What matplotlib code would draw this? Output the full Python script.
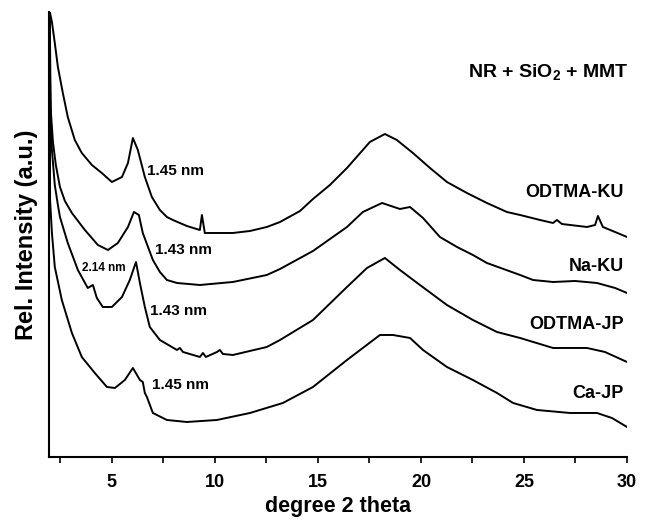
import matplotlib
matplotlib.use("Agg")
import matplotlib.pyplot as plt
from matplotlib.ticker import MultipleLocator

plt.rcParams['font.family'] = ['Liberation Sans', 'DejaVu Sans']
plt.rcParams['font.weight'] = 'bold'
plt.rcParams['mathtext.fontset'] = 'custom'
plt.rcParams['mathtext.bf'] = 'Liberation Sans:bold'
plt.rcParams['mathtext.rm'] = 'Liberation Sans:bold'
plt.rcParams['mathtext.default'] = 'bf'

# diffraction patterns (y is an offset intensity in arb. units)
odtma_ku_x = [1.99, 2.09, 2.23, 2.38, 2.62, 2.86, 3.20, 3.54, 4.03, 4.51, 5.00, 5.49, 5.78, 6.02,
              6.26, 6.60, 6.94, 7.33, 7.67, 7.96, 8.64, 9.27, 9.37, 9.51, 10.87, 11.70, 12.52,
              13.16, 14.13, 14.76, 15.58, 16.41, 17.52, 18.25, 18.83, 19.61, 20.44, 21.26,
              22.23, 23.20, 24.17, 24.81, 25.78, 26.41, 26.60, 26.84, 28.06, 28.45, 28.59,
              28.83, 29.42, 30.0]
odtma_ku_y = [445, 435, 414, 390, 364, 340, 317, 304, 292, 284, 275, 280, 294, 319,
              307, 280, 260, 247, 240, 237, 231, 227, 242, 224, 224, 226, 230,
              235, 246, 258, 272, 289, 315, 323, 317, 304, 289, 275,
              264, 254, 245, 242, 237, 234, 237, 233, 230, 232, 241,
              230, 225, 220]

na_ku_x = [1.99, 2.01, 2.04, 2.14, 2.28, 2.48, 2.72, 3.06, 3.69, 4.32, 4.81, 5.29, 5.78, 6.07,
           6.31, 6.50, 6.99, 7.33, 7.67, 8.16, 9.27, 10.87, 12.52, 13.16, 14.76, 16.41, 17.18,
           18.11, 18.98, 19.47, 20.10, 20.92, 21.75, 22.52, 23.20, 24.81, 25.44, 26.41, 27.48,
           28.54, 29.42, 30.0]
na_ku_y = [445, 380, 345, 315, 292, 270, 256, 244, 227, 212, 207, 214, 230, 245,
           242, 224, 197, 185, 177, 174, 172, 175, 182, 188, 206, 230, 245,
           254, 248, 250, 239, 220, 210, 202, 194, 182, 177, 175, 176,
           174, 169, 164]

odtma_jp_x = [1.99, 2.01, 2.09, 2.23, 2.38, 2.48, 2.86, 3.35, 3.83, 4.08, 4.27, 4.56, 5.00, 5.49,
              5.87, 6.17, 6.36, 6.60, 6.84, 7.33, 8.16, 8.30, 8.45, 9.27, 9.42, 9.56, 10.10,
              10.24, 10.39, 10.87, 12.52, 13.16, 14.76, 16.41, 17.38, 18.25, 18.98, 19.95,
              21.26, 22.52, 23.69, 24.81, 26.41, 28.06, 28.93, 30.0]
odtma_jp_y = [445, 357, 307, 272, 252, 240, 214, 187, 169, 172, 159, 150, 150, 160,
              177, 195, 174, 150, 130, 117, 107, 109, 105, 100, 104, 100, 105,
              107, 103, 102, 110, 117, 137, 170, 189, 199, 187, 172,
              152, 137, 125, 119, 109, 109, 105, 95]

ca_jp_x = [1.99, 1.995, 2.00, 2.09, 2.23, 2.57, 3.06, 3.54, 4.17, 4.76, 5.15, 5.63, 6.02, 6.36,
           6.50, 6.60, 6.70, 6.99, 7.67, 8.64, 10.10, 11.70, 13.30, 14.76, 16.41, 18.01,
           18.64, 19.47, 20.10, 21.26, 22.52, 23.69, 24.47, 25.63, 27.23, 28.54, 29.27, 30.0]
ca_jp_y = [445, 357, 257, 224, 190, 157, 124, 100, 84, 70, 69, 77, 89, 77,
           75, 64, 60, 44, 37, 35, 37, 44, 54, 70, 97, 122,
           122, 119, 107, 90, 77, 64, 54, 47, 44, 44, 39, 30]

sample_names = ["ODTMA-KU", "Na-KU", "ODTMA-JP", "Ca-JP"]
name_y = [264, 190, 132, 63]
spacing_labels = ["1.45 nm", "1.43 nm", "1.43 nm", "1.45 nm"]
spacing_x = [6.70, 7.09, 6.84, 6.94]
spacing_y = [286, 207, 146, 72]

fig = plt.figure(figsize=(6.46, 5.24), dpi=100)
ax = fig.add_axes([0.0759, 0.1279, 0.8947, 0.8492])

for xs, ys in [(odtma_ku_x, odtma_ku_y), (na_ku_x, na_ku_y),
               (odtma_jp_x, odtma_jp_y), (ca_jp_x, ca_jp_y)]:
    ax.plot(xs, ys, color="black", lw=1.4)

for name, yy in zip(sample_names, name_y):
    ax.text(29.85, yy, name, ha="right", va="center", fontsize=13, fontweight="bold")
for lab, xx, yy in zip(spacing_labels, spacing_x, spacing_y):
    ax.text(xx, yy, lab, ha="left", va="center", fontsize=11, fontweight="bold")
ax.text(3.54, 189, "2.14 nm", ha="left", va="center", fontsize=8.5, fontweight="bold")
ax.text(26.2, 385, "NR + SiO$_2$ + MMT", ha="center", va="center", fontsize=14, fontweight="bold")

ax.set_xlim(1.95, 30)
ax.set_ylim(0, 445)
ax.spines["top"].set_visible(False)
ax.spines["right"].set_visible(False)
ax.spines["left"].set_linewidth(1.5)
ax.spines["bottom"].set_linewidth(1.5)
ax.set_yticks([])
ax.xaxis.set_major_locator(MultipleLocator(5))
ax.xaxis.set_minor_locator(MultipleLocator(2.5))
ax.tick_params(axis="x", which="both", direction="out", length=4, width=1.2, labelsize=13, pad=8)
ax.set_xticks([5, 10, 15, 20, 25, 30])
ax.set_xlabel("degree 2 theta", fontsize=15.5, fontweight="bold", labelpad=4)
ax.set_ylabel("Rel. Intensity (a.u.)", fontsize=17, fontweight="bold", labelpad=8)

fig.savefig("out.png", dpi=100)
